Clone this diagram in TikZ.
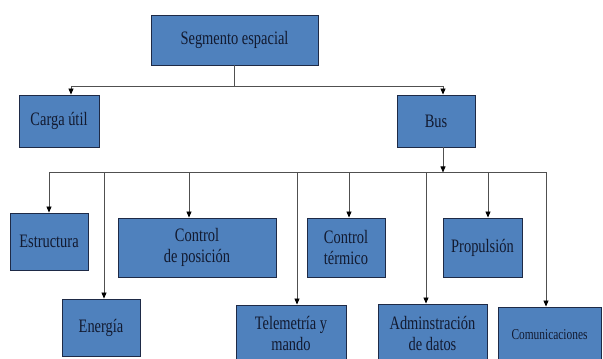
\documentclass[tikz,border=0pt]{standalone}
\usepackage{fontspec}
\setmainfont{Liberation Serif}[FakeStretch=0.76]
\usetikzlibrary{arrows.meta}

\definecolor{boxfill}{RGB}{79,129,189}
\definecolor{boxline}{RGB}{30,42,70}
\definecolor{boxtext}{RGB}{18,26,48}
\definecolor{wire}{RGB}{80,80,80}

\tikzset{
  block/.style={draw=boxline, fill=boxfill, text=boxtext, line width=0.9pt,
    inner sep=0pt, align=center, font=\fontsize{19}{21}\selectfont},
  wire/.style={draw=wire, line width=0.8pt},
  feed/.style={wire, -{Triangle[length=6pt,width=5pt,color=black]}}
}

\begin{document}
\begin{tikzpicture}[x=1pt,y=1pt]
\useasboundingbox (0,0) rectangle (603,359);

\node[block, minimum width=167, minimum height=50] (seg) at (234.5,319) {Segmento espacial};
\node[block, minimum width=80, minimum height=52] (carga) at (59,238) {Carga útil};
\node[block, minimum width=78, minimum height=52] (bus) at (436,238) {Bus};

\node[block, minimum width=78, minimum height=57] (estr) at (49,117.5) {Estructura};
\node[block, minimum width=78, minimum height=57] (ener) at (101,31.5) {Energía};
\node[block, minimum width=158, minimum height=59] (cpos) at (197,111.5) {Control\\de posición};
\node[block, minimum width=110, minimum height=57] (tele) at (291,25.5) {Telemetría y\\mando};
\node[block, minimum width=78, minimum height=59] (cter) at (346,111.5) {Control\\térmico};
\node[block, minimum width=109, minimum height=58] (admi) at (432.5,26) {Adminstración\\de datos};
\node[block, minimum width=79, minimum height=59] (prop) at (482.5,111.5) {Propulsión};
\node[block, minimum width=103, minimum height=55, font=\fontsize{15}{17}\selectfont] (comu) at (549.5,24.5) {Comunicaciones};

% segmento -> carga util, bus
\coordinate (tl) at ([yshift=-21pt]seg.south);
\coordinate (tcarga) at ([xshift=12pt]carga.north);
\coordinate (tbus) at ([xshift=7pt]bus.north);
\draw[wire] (seg.south) -- (tl);
\draw[wire] (tcarga |- tl) -- (tbus |- tl);
\draw[feed] (tcarga |- tl) -- (tcarga);
\draw[feed] (tbus |- tl) -- (tbus);

% bus -> subsistemas
\coordinate (bl) at ([yshift=-25pt]bus.south);
\draw[feed] (tbus |- bus.south) -- (tbus |- bl);
\foreach \n/\dx in {estr/0,ener/3,cpos/-8,tele/6,cter/3,admi/-6.5,prop/5.5,comu/-3.5}{
  \coordinate (t\n) at ([xshift=\dx pt]\n.north);
  \draw[feed] (t\n |- bl) -- (t\n);
}
\draw[wire] (testr |- bl) -- (tcomu |- bl);
\end{tikzpicture}
\end{document}
